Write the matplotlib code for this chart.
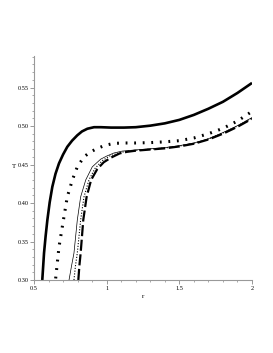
import numpy as np
import matplotlib
matplotlib.use("Agg")
import matplotlib.pyplot as plt
from matplotlib.ticker import MultipleLocator, FixedFormatter, FixedLocator

# curve data (r, T)
r_thick = [0.557, 0.569, 0.580, 0.592, 0.608, 0.626, 0.648, 0.672, 0.700, 0.729, 0.762, 0.798, 0.830, 0.867, 0.913,
           0.96, 1.03, 1.119, 1.20, 1.30, 1.40, 1.50, 1.60, 1.70, 1.80, 1.90, 2.0]
T_thick = [0.300, 0.335, 0.357, 0.378, 0.401, 0.421, 0.438, 0.4515, 0.463, 0.473, 0.481, 0.488, 0.493, 0.4965, 0.4985,
           0.4985, 0.498, 0.498, 0.4985, 0.5005, 0.5035, 0.508, 0.5145, 0.5225, 0.5315, 0.543, 0.556]

r_bigdot = [0.649, 0.672, 0.706, 0.729, 0.764, 0.798, 0.844, 0.885, 0.936, 0.990, 1.05, 1.12,
            1.20, 1.30, 1.40, 1.50, 1.60, 1.70, 1.80, 1.90, 2.0]
T_bigdot = [0.302, 0.343, 0.382, 0.408, 0.430, 0.447, 0.460, 0.466, 0.471, 0.475, 0.4775, 0.478,
            0.478, 0.4785, 0.4795, 0.481, 0.4845, 0.490, 0.497, 0.5065, 0.519]

r_thin = [0.741, 0.758, 0.775, 0.798, 0.821, 0.856, 0.901, 0.959, 1.00, 1.05, 1.108,
          1.20, 1.30, 1.40, 1.50, 1.60, 1.70, 1.80, 1.90, 2.0]
T_thin = [0.300, 0.318, 0.335, 0.378, 0.408, 0.430, 0.447, 0.457, 0.461, 0.465, 0.4675,
          0.469, 0.4705, 0.472, 0.4745, 0.478, 0.4835, 0.4915, 0.5005, 0.511]

r_dots = [0.775, 0.785, 0.798, 0.821, 0.844, 0.878, 0.920, 0.970, 1.02, 1.08, 1.13,
          1.20, 1.30, 1.40, 1.50, 1.60, 1.70, 1.80, 1.90, 2.0]
T_dots = [0.300, 0.318, 0.335, 0.378, 0.408, 0.430, 0.445, 0.455, 0.461, 0.465, 0.467,
          0.4685, 0.470, 0.4715, 0.474, 0.4775, 0.483, 0.491, 0.500, 0.5105]

r_dash = [0.805, 0.812, 0.821, 0.839, 0.862, 0.893, 0.935, 0.980, 1.03, 1.09, 1.14,
          1.20, 1.30, 1.40, 1.50, 1.60, 1.70, 1.80, 1.90, 2.0]
T_dash = [0.300, 0.318, 0.335, 0.378, 0.408, 0.430, 0.444, 0.453, 0.459, 0.4645, 0.4665,
          0.468, 0.4695, 0.471, 0.4735, 0.477, 0.4825, 0.490, 0.499, 0.5095]

y_ticks = [0.30, 0.35, 0.40, 0.45, 0.50, 0.55]
y_labels = ["0.30", "0.35", "0.40", "0.45", "0.50", "0.55"]
x_ticks = [0.5, 1, 1.5, 2]
x_labels = ["0.5", "1", "1.5", "2"]

fig = plt.figure(figsize=(2.73, 3.53), dpi=100)
ax = fig.add_axes([34 / 273, 1 - 280 / 353, 218 / 273, 224 / 353])

ax.plot(r_thick, T_thick, color="black", lw=1.9, solid_capstyle="butt", solid_joinstyle="round")
ax.plot(r_bigdot, T_bigdot, color="black", lw=2.2, linestyle=(0, (0.6, 2.2)))
ax.plot(r_thin, T_thin, color="black", lw=0.5)
ax.plot(r_dots, T_dots, color="black", lw=0.8, linestyle=(0, (1, 1.5)))
ax.plot(r_dash, T_dash, color="black", lw=1.6, linestyle=(0, (5, 1.6)))

ax.set_xlim(0.5, 2.0)
ax.set_ylim(0.30, 0.591)

for s in ["top", "right"]:
    ax.spines[s].set_visible(False)
for s in ["left", "bottom"]:
    ax.spines[s].set_color("#999999")
    ax.spines[s].set_linewidth(0.8)

ax.xaxis.set_major_locator(FixedLocator(x_ticks))
ax.xaxis.set_major_formatter(FixedFormatter(x_labels))
ax.xaxis.set_minor_locator(MultipleLocator(0.1))
ax.yaxis.set_major_locator(FixedLocator(y_ticks))
ax.yaxis.set_major_formatter(FixedFormatter(y_labels))
ax.yaxis.set_minor_locator(MultipleLocator(0.01))
ax.tick_params(which="major", length=3, width=0.6, color="#888888", labelsize=4.5, pad=1)
ax.tick_params(which="minor", length=1.6, width=0.5, color="#888888")
for lab in ax.get_xticklabels() + ax.get_yticklabels():
    lab.set_family("Liberation Serif")

fig.text(14 / 273, 1 - 166 / 353, "T", fontsize=5, family="Liberation Serif", ha="center", va="center")
fig.text(143 / 273, 1 - 296 / 353, "r", fontsize=5, family="Liberation Serif", ha="center", va="center")

fig.savefig("out.png", dpi=100)
